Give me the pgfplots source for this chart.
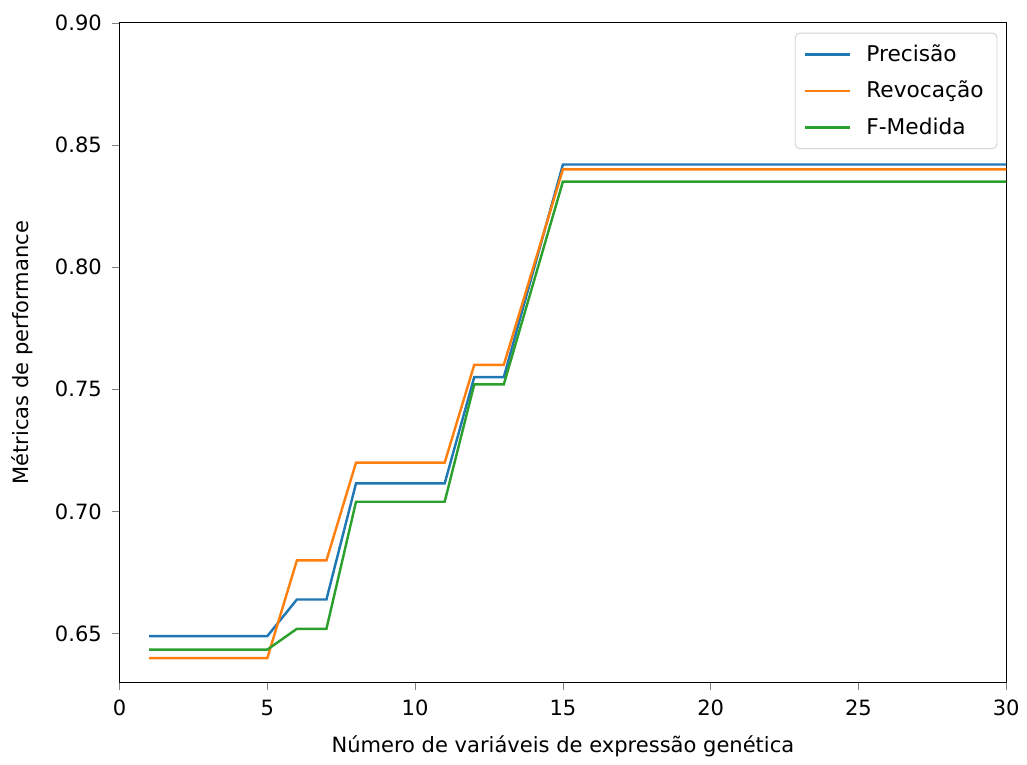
\documentclass[border=0pt]{standalone}
\usepackage{pgfplots}
\pgfplotsset{compat=1.18}
\usepackage{fontspec}
\setmainfont{DejaVu Sans}
\definecolor{c1}{HTML}{1F77B4}
\definecolor{c2}{HTML}{FF7F0E}
\definecolor{c3}{HTML}{2CA02C}
\begin{document}
\begin{tikzpicture}
\begin{axis}[
  name=ax,
  scale only axis,
  width=400.5pt, height=298pt,
  xmin=0, xmax=30, ymin=0.63, ymax=0.90,
  xtick={0,5,10,15,20,25,30},
  ytick={0.65,0.70,0.75,0.80,0.85,0.90},
  yticklabel style={/pgf/number format/fixed, /pgf/number format/fixed zerofill, /pgf/number format/precision=2, xshift=-1pt},
  /pgf/number format/assume math mode=true,
  ticklabel style={font=\fontsize{9.5}{11}\selectfont},
  xticklabel style={yshift=-1pt},
  label style={font=\fontsize{9.5}{11}\selectfont},
  tick align=outside, tick pos=left,
  major tick length=3.5pt,
  xlabel={Número de variáveis de expressão genética},
  ylabel={Métricas de performance},
  xlabel style={yshift=-2pt},
  ylabel style={yshift=3pt},
  legend style={at={(0.99,0.985)}, anchor=north east, font=\fontsize{9.8}{11}\selectfont, draw=black!18, rounded corners=2pt, row sep=3.5pt, column sep=5pt, inner xsep=4pt, inner ysep=3pt},
  legend image code/.code={\draw[#1, line width=1.1pt] (0pt,0pt) -- (20pt,0pt);},
  legend cell align=left,
]
\addplot[c1, line width=1.1pt] coordinates {(1,0.649)(2,0.649)(3,0.649)(4,0.649)(5,0.649)(6,0.664)(7,0.664)(8,0.7115)(9,0.7115)(10,0.7115)(11,0.7115)(12,0.755)(13,0.755)(14,0.7985)(15,0.842)(16,0.842)(17,0.842)(18,0.842)(19,0.842)(20,0.842)(21,0.842)(22,0.842)(23,0.842)(24,0.842)(25,0.842)(26,0.842)(27,0.842)(28,0.842)(29,0.842)(30,0.842)};
\addlegendentry{Precisão}
\addplot[c2, line width=1.1pt] coordinates {(1,0.640)(2,0.640)(3,0.640)(4,0.640)(5,0.640)(6,0.680)(7,0.680)(8,0.720)(9,0.720)(10,0.720)(11,0.720)(12,0.760)(13,0.760)(14,0.800)(15,0.840)(16,0.840)(17,0.840)(18,0.840)(19,0.840)(20,0.840)(21,0.840)(22,0.840)(23,0.840)(24,0.840)(25,0.840)(26,0.840)(27,0.840)(28,0.840)(29,0.840)(30,0.840)};
\addlegendentry{Revocação}
\addplot[c3, line width=1.1pt] coordinates {(1,0.6435)(2,0.6435)(3,0.6435)(4,0.6435)(5,0.6435)(6,0.652)(7,0.652)(8,0.704)(9,0.704)(10,0.704)(11,0.704)(12,0.752)(13,0.752)(14,0.7935)(15,0.835)(16,0.835)(17,0.835)(18,0.835)(19,0.835)(20,0.835)(21,0.835)(22,0.835)(23,0.835)(24,0.835)(25,0.835)(26,0.835)(27,0.835)(28,0.835)(29,0.835)(30,0.835)};
\addlegendentry{F-Medida}
\end{axis}
\path (ax.north east) ++(7.6pt,10.3pt);
\path (ax.south west) ++(-54pt,-34pt);
\end{tikzpicture}
\end{document}
